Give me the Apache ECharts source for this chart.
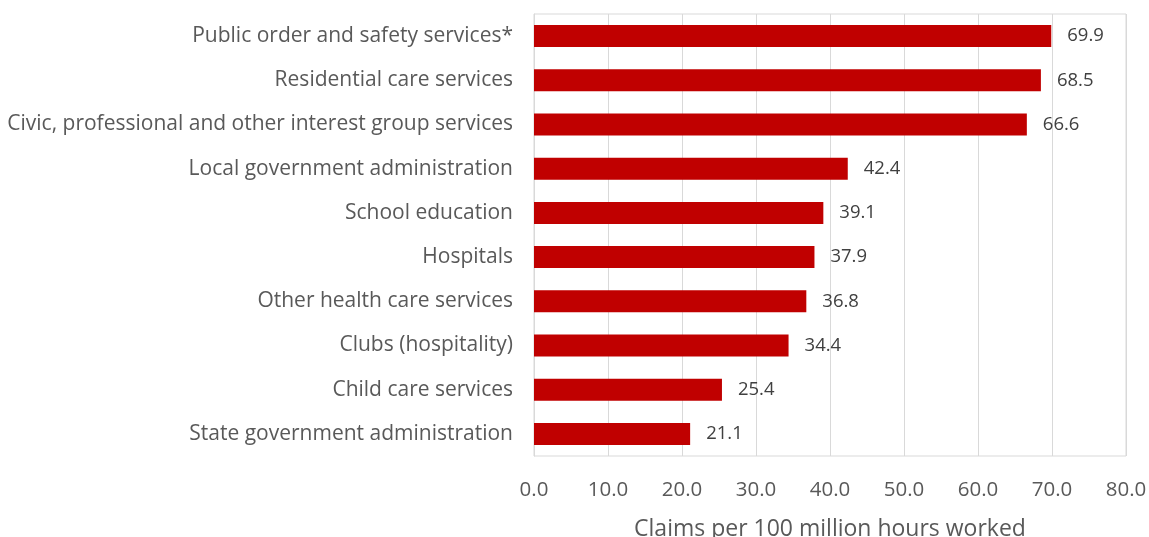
<!DOCTYPE html>
<html><head><meta charset="utf-8">
<script src="https://cdn.jsdelivr.net/npm/echarts@6/dist/echarts.min.js"></script>
<style>html,body{margin:0;padding:0;background:#fff}#c{width:1149px;height:537px}</style>
</head><body><div id="c"></div>
<script>
const categories = [
  "Public order and safety services*",
  "Residential care services",
  "Civic, professional and other interest group services",
  "Local government administration",
  "School education",
  "Hospitals",
  "Other health care services",
  "Clubs (hospitality)",
  "Child care services",
  "State government administration"
];
const values = [69.9, 68.5, 66.6, 42.4, 39.1, 37.9, 36.8, 34.4, 25.4, 21.1];
const axisTitle = "Claims per 100 million hours worked";

const font = "'Open Sans', 'Liberation Sans', sans-serif";
const chart = echarts.init(document.getElementById('c'), null, {renderer: 'canvas'});
chart.setOption({
  animation: false,
  grid: {left: 534, right: 23, top: 14, bottom: 81, show: true, borderColor: '#d9d9d9', borderWidth: 1,
    containLabel: false, outerBoundsMode: 'none'},
  xAxis: {
    type: 'value', min: 0, max: 80, interval: 10,
    name: axisTitle, nameLocation: 'middle', nameGap: 62,
    nameTextStyle: {fontFamily: font, fontSize: 23, color: '#595959'},
    axisLabel: {formatter: v => v.toFixed(1), fontFamily: font, fontSize: 20.5, color: '#595959', margin: 24},
    axisLine: {show: false}, axisTick: {show: false},
    splitLine: {lineStyle: {color: '#d9d9d9', width: 1}}
  },
  yAxis: {
    type: 'category', data: categories, inverse: true,
    axisLabel: {fontFamily: font, fontSize: 21, color: '#595959', margin: 21},
    axisLine: {lineStyle: {color: '#d9d9d9'}}, axisTick: {show: false}
  },
  series: [{
    type: 'bar', data: values, barWidth: 22,
    itemStyle: {color: '#C00000'},
    label: {show: true, position: 'right', distance: 16, formatter: p => p.value.toFixed(1),
      fontFamily: font, fontSize: 18.5, color: '#404040'}
  }]
});
</script></body></html>
